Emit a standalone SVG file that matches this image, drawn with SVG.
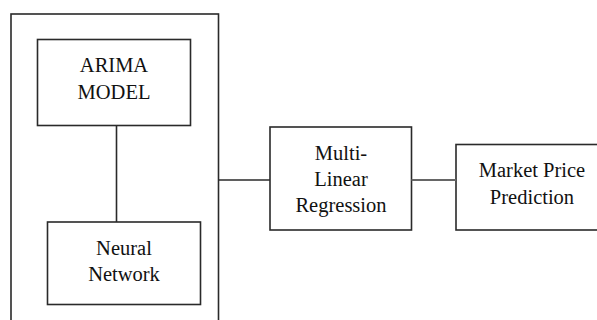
<svg xmlns="http://www.w3.org/2000/svg" width="597" height="320" viewBox="0 0 597 320">
<style>
.box{fill:none;stroke:#2a2a2a;stroke-width:1.6}
.t{font-family:"Liberation Serif","Times New Roman",serif;font-size:20.5px;fill:#111;text-anchor:middle}
.c{stroke:#2a2a2a;stroke-width:1.6;fill:none}
</style>
<rect width="597" height="320" fill="#fff"/>
<g id="container"><rect class="box" x="11" y="14" width="207.5" height="330"/></g>
<g id="arima"><rect class="box" x="37.5" y="39.5" width="153" height="86"/>
<text class="t" x="114" y="72">ARIMA</text><text class="t" x="114" y="98.5">MODEL</text></g>
<g id="neural"><rect class="box" x="47.5" y="222" width="153" height="82.5"/>
<text class="t" x="124" y="255">Neural</text><text class="t" x="124" y="281">Network</text></g>
<g id="mlr"><rect class="box" x="270" y="127" width="141.5" height="103"/>
<text class="t" x="341" y="159.5">Multi-</text><text class="t" x="341" y="186">Linear</text><text class="t" x="341" y="211.5">Regression</text></g>
<g id="market"><rect class="box" x="456" y="144.5" width="160" height="85.5"/>
<text class="t" x="532" y="177">Market Price</text><text class="t" x="532" y="203.5">Prediction</text></g>
<g id="connectors">
<line class="c" x1="116.5" y1="125.5" x2="116.5" y2="222"/>
<line class="c" x1="218.5" y1="180" x2="270" y2="180"/>
<line x1="411.5" y1="180" x2="456" y2="180" stroke="#666" stroke-width="2.2"/>
</g>
</svg>
